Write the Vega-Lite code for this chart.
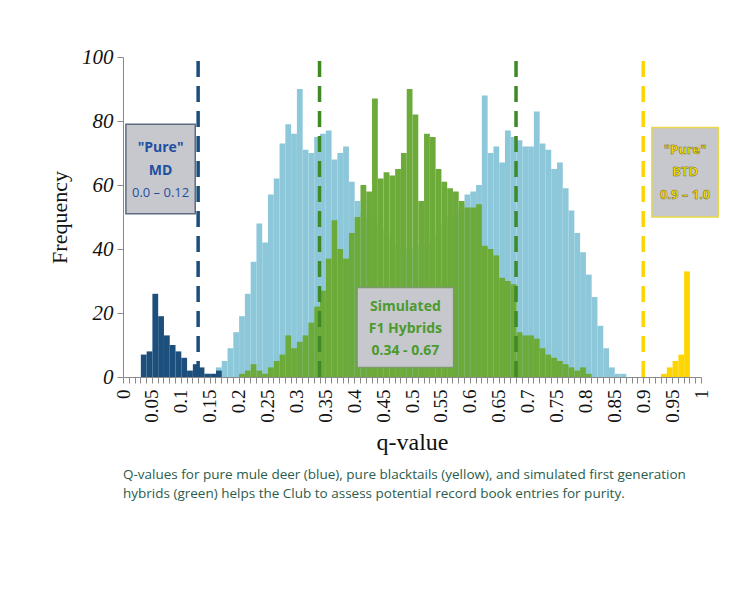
{
  "$schema": "https://vega.github.io/schema/vega-lite/v6.json",
  "width": 578,
  "height": 320,
  "padding": {"left": 48, "top": 46, "right": 10, "bottom": 10},
  "background": "white",
  "config": {"view": {"stroke": null}},
  "title": {
    "text": ["Q-values for pure mule deer (blue), pure blacktails (yellow), and simulated first generation", "hybrids (green) helps the Club to assess potential record book entries for purity."],
    "orient": "bottom",
    "anchor": "start",
    "frame": "group",
    "font": "Open Sans",
    "fontSize": 13.5,
    "fontWeight": "normal",
    "color": "#2b5c4c",
    "lineHeight": 19,
    "offset": 14
  },
  "datasets": {
    "hist": [
      {"g": "Samples", "q": 0.14, "c": 1}, {"g": "Samples", "q": 0.15, "c": 1}, {"g": "Samples", "q": 0.16, "c": 3}, {"g": "Samples", "q": 0.17, "c": 5},
      {"g": "Samples", "q": 0.18, "c": 9}, {"g": "Samples", "q": 0.19, "c": 14}, {"g": "Samples", "q": 0.20, "c": 19}, {"g": "Samples", "q": 0.21, "c": 26},
      {"g": "Samples", "q": 0.22, "c": 36}, {"g": "Samples", "q": 0.23, "c": 48}, {"g": "Samples", "q": 0.24, "c": 42}, {"g": "Samples", "q": 0.25, "c": 57},
      {"g": "Samples", "q": 0.26, "c": 62}, {"g": "Samples", "q": 0.27, "c": 73}, {"g": "Samples", "q": 0.28, "c": 79}, {"g": "Samples", "q": 0.29, "c": 76},
      {"g": "Samples", "q": 0.30, "c": 90}, {"g": "Samples", "q": 0.31, "c": 71}, {"g": "Samples", "q": 0.32, "c": 70}, {"g": "Samples", "q": 0.33, "c": 75},
      {"g": "Samples", "q": 0.34, "c": 76}, {"g": "Samples", "q": 0.35, "c": 77}, {"g": "Samples", "q": 0.36, "c": 68}, {"g": "Samples", "q": 0.37, "c": 70},
      {"g": "Samples", "q": 0.38, "c": 72}, {"g": "Samples", "q": 0.39, "c": 61}, {"g": "Samples", "q": 0.40, "c": 55}, {"g": "Samples", "q": 0.41, "c": 52},
      {"g": "Samples", "q": 0.42, "c": 50}, {"g": "Samples", "q": 0.43, "c": 48}, {"g": "Samples", "q": 0.44, "c": 46}, {"g": "Samples", "q": 0.45, "c": 44},
      {"g": "Samples", "q": 0.46, "c": 42}, {"g": "Samples", "q": 0.47, "c": 41}, {"g": "Samples", "q": 0.48, "c": 40}, {"g": "Samples", "q": 0.49, "c": 40},
      {"g": "Samples", "q": 0.50, "c": 40}, {"g": "Samples", "q": 0.51, "c": 41}, {"g": "Samples", "q": 0.52, "c": 42}, {"g": "Samples", "q": 0.53, "c": 44},
      {"g": "Samples", "q": 0.54, "c": 46}, {"g": "Samples", "q": 0.55, "c": 48}, {"g": "Samples", "q": 0.56, "c": 50}, {"g": "Samples", "q": 0.57, "c": 52},
      {"g": "Samples", "q": 0.58, "c": 54}, {"g": "Samples", "q": 0.59, "c": 57}, {"g": "Samples", "q": 0.60, "c": 58}, {"g": "Samples", "q": 0.61, "c": 60},
      {"g": "Samples", "q": 0.62, "c": 88}, {"g": "Samples", "q": 0.63, "c": 70}, {"g": "Samples", "q": 0.64, "c": 72}, {"g": "Samples", "q": 0.65, "c": 67},
      {"g": "Samples", "q": 0.66, "c": 77}, {"g": "Samples", "q": 0.67, "c": 75}, {"g": "Samples", "q": 0.68, "c": 74}, {"g": "Samples", "q": 0.69, "c": 72},
      {"g": "Samples", "q": 0.70, "c": 72}, {"g": "Samples", "q": 0.71, "c": 83}, {"g": "Samples", "q": 0.72, "c": 73}, {"g": "Samples", "q": 0.73, "c": 71},
      {"g": "Samples", "q": 0.74, "c": 65}, {"g": "Samples", "q": 0.75, "c": 67}, {"g": "Samples", "q": 0.76, "c": 59}, {"g": "Samples", "q": 0.77, "c": 52},
      {"g": "Samples", "q": 0.78, "c": 45}, {"g": "Samples", "q": 0.79, "c": 39}, {"g": "Samples", "q": 0.80, "c": 32}, {"g": "Samples", "q": 0.81, "c": 25},
      {"g": "Samples", "q": 0.82, "c": 16}, {"g": "Samples", "q": 0.83, "c": 9}, {"g": "Samples", "q": 0.84, "c": 3}, {"g": "Samples", "q": 0.85, "c": 1},
      {"g": "Samples", "q": 0.86, "c": 1},
      {"g": "F1 hybrids", "q": 0.20, "c": 1}, {"g": "F1 hybrids", "q": 0.21, "c": 2}, {"g": "F1 hybrids", "q": 0.22, "c": 4}, {"g": "F1 hybrids", "q": 0.23, "c": 2},
      {"g": "F1 hybrids", "q": 0.24, "c": 1}, {"g": "F1 hybrids", "q": 0.25, "c": 3}, {"g": "F1 hybrids", "q": 0.26, "c": 5}, {"g": "F1 hybrids", "q": 0.27, "c": 7},
      {"g": "F1 hybrids", "q": 0.28, "c": 13}, {"g": "F1 hybrids", "q": 0.29, "c": 9}, {"g": "F1 hybrids", "q": 0.30, "c": 11}, {"g": "F1 hybrids", "q": 0.31, "c": 13},
      {"g": "F1 hybrids", "q": 0.32, "c": 17}, {"g": "F1 hybrids", "q": 0.33, "c": 22}, {"g": "F1 hybrids", "q": 0.34, "c": 27}, {"g": "F1 hybrids", "q": 0.35, "c": 37},
      {"g": "F1 hybrids", "q": 0.36, "c": 49}, {"g": "F1 hybrids", "q": 0.37, "c": 40}, {"g": "F1 hybrids", "q": 0.38, "c": 37}, {"g": "F1 hybrids", "q": 0.39, "c": 45},
      {"g": "F1 hybrids", "q": 0.40, "c": 50}, {"g": "F1 hybrids", "q": 0.41, "c": 60}, {"g": "F1 hybrids", "q": 0.42, "c": 58}, {"g": "F1 hybrids", "q": 0.43, "c": 87},
      {"g": "F1 hybrids", "q": 0.44, "c": 62}, {"g": "F1 hybrids", "q": 0.45, "c": 64}, {"g": "F1 hybrids", "q": 0.46, "c": 63}, {"g": "F1 hybrids", "q": 0.47, "c": 65},
      {"g": "F1 hybrids", "q": 0.48, "c": 70}, {"g": "F1 hybrids", "q": 0.49, "c": 90}, {"g": "F1 hybrids", "q": 0.50, "c": 82}, {"g": "F1 hybrids", "q": 0.51, "c": 55},
      {"g": "F1 hybrids", "q": 0.52, "c": 76}, {"g": "F1 hybrids", "q": 0.53, "c": 75}, {"g": "F1 hybrids", "q": 0.54, "c": 65}, {"g": "F1 hybrids", "q": 0.55, "c": 61},
      {"g": "F1 hybrids", "q": 0.56, "c": 59}, {"g": "F1 hybrids", "q": 0.57, "c": 58}, {"g": "F1 hybrids", "q": 0.58, "c": 55}, {"g": "F1 hybrids", "q": 0.59, "c": 53},
      {"g": "F1 hybrids", "q": 0.60, "c": 53}, {"g": "F1 hybrids", "q": 0.61, "c": 54}, {"g": "F1 hybrids", "q": 0.62, "c": 41}, {"g": "F1 hybrids", "q": 0.63, "c": 40},
      {"g": "F1 hybrids", "q": 0.64, "c": 38}, {"g": "F1 hybrids", "q": 0.65, "c": 31}, {"g": "F1 hybrids", "q": 0.66, "c": 30}, {"g": "F1 hybrids", "q": 0.67, "c": 29},
      {"g": "F1 hybrids", "q": 0.68, "c": 14}, {"g": "F1 hybrids", "q": 0.69, "c": 13}, {"g": "F1 hybrids", "q": 0.70, "c": 13}, {"g": "F1 hybrids", "q": 0.71, "c": 12},
      {"g": "F1 hybrids", "q": 0.72, "c": 9}, {"g": "F1 hybrids", "q": 0.73, "c": 7}, {"g": "F1 hybrids", "q": 0.74, "c": 6}, {"g": "F1 hybrids", "q": 0.75, "c": 5},
      {"g": "F1 hybrids", "q": 0.76, "c": 4}, {"g": "F1 hybrids", "q": 0.77, "c": 3}, {"g": "F1 hybrids", "q": 0.78, "c": 2}, {"g": "F1 hybrids", "q": 0.79, "c": 3},
      {"g": "F1 hybrids", "q": 0.80, "c": 1},
      {"g": "Mule deer", "q": 0.03, "c": 7}, {"g": "Mule deer", "q": 0.04, "c": 8}, {"g": "Mule deer", "q": 0.05, "c": 26}, {"g": "Mule deer", "q": 0.06, "c": 19},
      {"g": "Mule deer", "q": 0.07, "c": 13}, {"g": "Mule deer", "q": 0.08, "c": 10}, {"g": "Mule deer", "q": 0.09, "c": 8}, {"g": "Mule deer", "q": 0.10, "c": 6},
      {"g": "Mule deer", "q": 0.11, "c": 2}, {"g": "Mule deer", "q": 0.12, "c": 4}, {"g": "Mule deer", "q": 0.13, "c": 3}, {"g": "Mule deer", "q": 0.14, "c": 1},
      {"g": "Mule deer", "q": 0.15, "c": 1}, {"g": "Mule deer", "q": 0.16, "c": 2},
      {"g": "Blacktail", "q": 0.93, "c": 1}, {"g": "Blacktail", "q": 0.94, "c": 3}, {"g": "Blacktail", "q": 0.95, "c": 5}, {"g": "Blacktail", "q": 0.96, "c": 7},
      {"g": "Blacktail", "q": 0.97, "c": 33}
    ],
    "cuts": [
      {"g": "MD cut", "q": 0.13},
      {"g": "F1 cut", "q": 0.34},
      {"g": "F1 cut", "q": 0.68},
      {"g": "BTD cut", "q": 0.90}
    ],
    "boxes": [
      {"box": "MD", "q0": 0.005, "q1": 0.125, "f0": 51, "f1": 79},
      {"box": "F1", "q0": 0.405, "q1": 0.572, "f0": 3, "f1": 28},
      {"box": "BTD", "q0": 0.915, "q1": 1.03, "f0": 50, "f1": 78}
    ],
    "labels": [
      {"box": "MD", "kind": "title", "text": "\"Pure\"", "q": 0.065, "f": 71.5},
      {"box": "MD", "kind": "title", "text": "MD", "q": 0.065, "f": 64.5},
      {"box": "MD", "kind": "range", "text": "0.0 – 0.12", "q": 0.065, "f": 57.5},
      {"box": "F1", "kind": "title", "text": "Simulated", "q": 0.4885, "f": 22},
      {"box": "F1", "kind": "title", "text": "F1 Hybrids", "q": 0.4885, "f": 15},
      {"box": "F1", "kind": "title", "text": "0.34 - 0.67", "q": 0.4885, "f": 8},
      {"box": "BTD", "kind": "title", "text": "\"Pure\"", "q": 0.9725, "f": 71},
      {"box": "BTD", "kind": "title", "text": "BTD", "q": 0.9725, "f": 64},
      {"box": "BTD", "kind": "title", "text": "0.9 – 1.0", "q": 0.9725, "f": 57}
    ]
  },
  "layer": [
    {
      "data": {"name": "hist"},
      "mark": {"type": "bar", "binSpacing": 0},
      "encoding": {
        "x": {
          "field": "q", "type": "quantitative",
          "bin": {"binned": true, "step": 0.01},
          "scale": {"domain": [0, 1], "nice": false},
          "axis": {
            "title": "q-value",
            "tickCount": 100,
            "labelExpr": "round(datum.value*100) % 5 == 0 ? format(datum.value, '~g') : ''",
            "labelAngle": -90,
            "labelFont": "Liberation Serif",
            "labelFontSize": 19,
            "labelColor": "#111111",
            "labelOverlap": false,
            "labelBound": false,
            "labelPadding": 6,
            "tickSize": 6,
            "tickColor": "#8a8a8a",
            "domainColor": "#8a8a8a",
            "titleFont": "Liberation Serif",
            "titleFontSize": 24,
            "titleFontWeight": "normal",
            "titleColor": "#111111",
            "titlePadding": 8,
            "grid": false
          }
        },
        "y": {
          "field": "c", "type": "quantitative", "stack": null,
          "scale": {"domain": [0, 100], "nice": false},
          "axis": {
            "title": "Frequency",
            "values": [0, 20, 40, 60, 80, 100],
            "labelFont": "Liberation Serif",
            "labelFontStyle": "italic",
            "labelFontSize": 21,
            "labelColor": "#111111",
            "labelPadding": 4,
            "titleFont": "Liberation Serif",
            "titleFontSize": 22,
            "titleFontWeight": "normal",
            "titleColor": "#111111",
            "titlePadding": 10,
            "tickSize": 6,
            "tickColor": "#8a8a8a",
            "domainColor": "#8a8a8a",
            "grid": false
          }
        },
        "color": {
          "field": "g", "type": "nominal", "legend": null,
          "scale": {
            "domain": ["Samples", "F1 hybrids", "Mule deer", "Blacktail", "MD cut", "F1 cut", "BTD cut"],
            "range": ["#8dc8da", "#6cab3a", "#1c4f7c", "#ffd500", "#1c4f7c", "#3d8a26", "#ffd500"]
          }
        }
      }
    },
    {
      "data": {"name": "cuts"},
      "mark": {"type": "rule", "strokeDash": [16, 9], "strokeWidth": 3.5},
      "encoding": {
        "x": {"field": "q", "type": "quantitative"},
        "y": {"datum": 0},
        "y2": {"datum": 100},
        "color": {"field": "g", "type": "nominal", "legend": null}
      }
    },
    {
      "data": {"name": "boxes"},
      "mark": {"type": "rect", "fill": "#c6c8cd", "strokeWidth": 1.5, "clip": false},
      "encoding": {
        "x": {"field": "q0", "type": "quantitative"},
        "x2": {"field": "q1"},
        "y": {"field": "f0", "type": "quantitative"},
        "y2": {"field": "f1"},
        "stroke": {
          "field": "box", "type": "nominal", "legend": null,
          "scale": {"domain": ["MD", "F1", "BTD"], "range": ["#5f6b80", "#7c9a6a", "#e8d84a"]}
        }
      }
    },
    {
      "data": {"name": "labels"},
      "transform": [{"filter": "datum.box === 'MD' && datum.kind === 'title'"}],
      "mark": {"type": "text", "font": "Open Sans", "fontSize": 14, "fontWeight": "bold", "color": "#1f4fa0", "baseline": "middle"},
      "encoding": {
        "x": {"field": "q", "type": "quantitative"},
        "y": {"field": "f", "type": "quantitative"},
        "text": {"field": "text"}
      }
    },
    {
      "data": {"name": "labels"},
      "transform": [{"filter": "datum.box === 'MD' && datum.kind === 'range'"}],
      "mark": {"type": "text", "font": "Open Sans", "fontSize": 13, "fontWeight": "normal", "color": "#1f4fa0", "baseline": "middle"},
      "encoding": {
        "x": {"field": "q", "type": "quantitative"},
        "y": {"field": "f", "type": "quantitative"},
        "text": {"field": "text"}
      }
    },
    {
      "data": {"name": "labels"},
      "transform": [{"filter": "datum.box === 'F1'"}],
      "mark": {"type": "text", "font": "Open Sans", "fontSize": 14, "fontWeight": "bold", "color": "#4b9a2e", "baseline": "middle"},
      "encoding": {
        "x": {"field": "q", "type": "quantitative"},
        "y": {"field": "f", "type": "quantitative"},
        "text": {"field": "text"}
      }
    },
    {
      "data": {"name": "labels"},
      "transform": [{"filter": "datum.box === 'BTD'"}],
      "mark": {"type": "text", "font": "Open Sans", "fontSize": 13, "fontWeight": "bold", "color": "#ffe100", "stroke": "#6e6a2a", "strokeWidth": 0.5, "baseline": "middle", "clip": false},
      "encoding": {
        "x": {"field": "q", "type": "quantitative"},
        "y": {"field": "f", "type": "quantitative"},
        "text": {"field": "text"}
      }
    }
  ]
}
